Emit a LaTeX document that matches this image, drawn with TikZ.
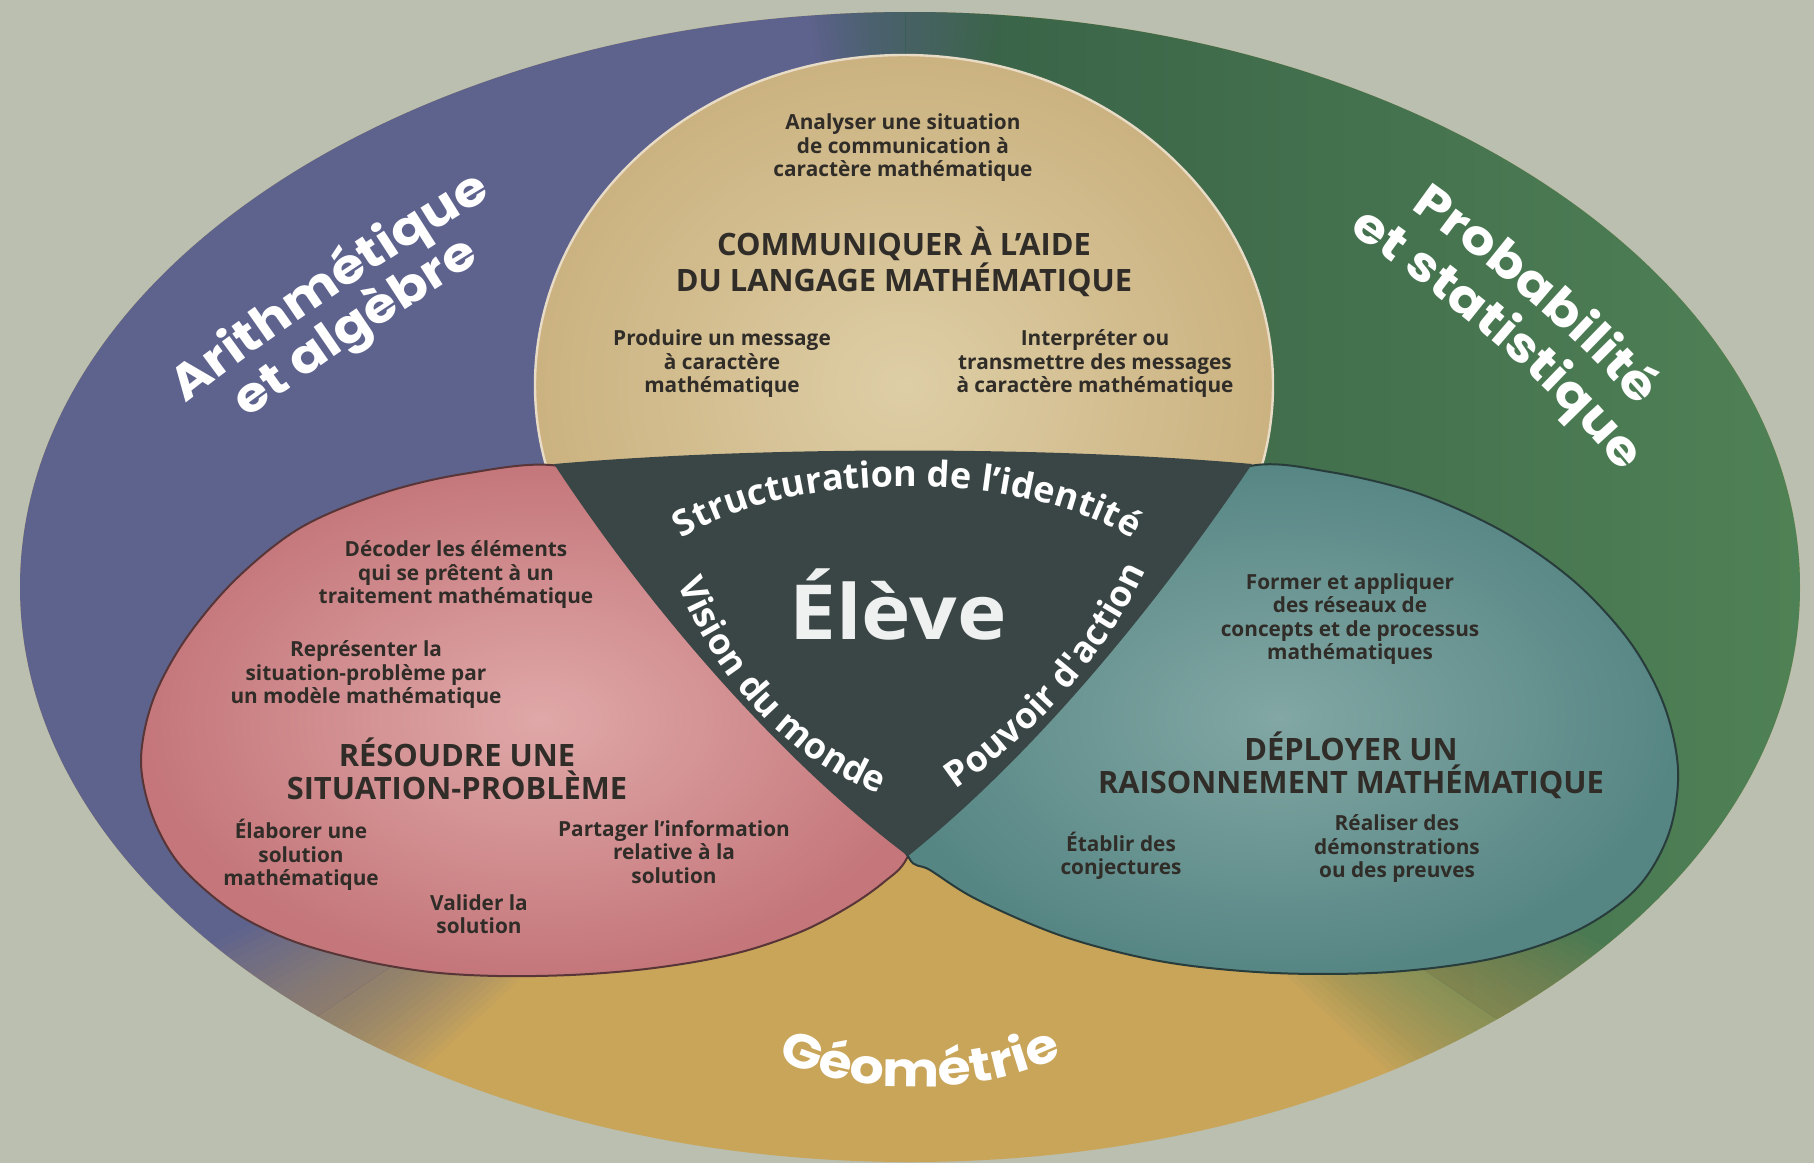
\documentclass[tikz,border=0pt]{standalone}
\usepackage{fontspec}
\setmainfont{Open Sans}
\newfontfamily\whitefont{Open Sans}
\newfontfamily\decofont{Poppins}[FakeStretch=1.12]
\usetikzlibrary{calc, decorations.text}

\definecolor{bgsage}{RGB}{186,191,176}
\definecolor{arith}{RGB}{94,99,142}
\definecolor{proba}{RGB}{80,130,86}
\definecolor{probadark}{RGB}{56,97,70}
\definecolor{geom}{RGB}{201,165,90}
\definecolor{commu}{RGB}{203,178,128}
\definecolor{commulight}{RGB}{222,206,166}
\definecolor{resou}{RGB}{196,118,122}
\definecolor{resoulight}{RGB}{224,168,168}
\definecolor{deplo}{RGB}{86,134,132}
\definecolor{deplolight}{RGB}{130,167,164}
\definecolor{eleve}{RGB}{58,70,70}
\definecolor{ink}{RGB}{48,44,40}

\tikzset{
  small/.style={font=\bfseries\fontsize{10.4}{11.75}\selectfont, text=ink, align=center, inner sep=0pt},
  heading/.style={font=\bfseries\fontsize{15.4}{16.5}\selectfont, text=ink, align=center, inner sep=0pt},
  curved/.style={decorate, decoration={text along path, text align=center,
      text={|\whitefont\bfseries\fontsize{18}{18}\selectfont\color{white}|#1}}},
  domain/.style={decorate, decoration={text along path, text align=center,
      text={|\decofont\bfseries\fontsize{24}{24}\selectfont\color{white}|#1}}},
}

\begin{document}
\begin{tikzpicture}[x=0.5pt, y=-0.5pt]
  \useasboundingbox (0,0) rectangle (1814,1163);
  \fill[bgsage] (0,0) rectangle (1814,1163);
  \coordinate (o) at (905,620);

  \begin{scope}
    \clip (910,587) ellipse [x radius=445pt, y radius=287.5pt];
    \fill[geom] (0,0) rectangle (1814,1163);
    \fill[arith] (o) -- ($(o)+(90:800pt)$) -- ($(o)+(150:800pt)$) -- ($(o)+(214:800pt)$) -- cycle;
    \shade[left color=probadark, right color=proba]
      (o) -- (905,-10) -- (1820,-10) -- (1820,1163) -- (1710,1163) -- cycle;
    \foreach \d in {0.6,1.2,...,9} {
      \fill[arith, opacity=0.045] (o) -- ($(o)+(214:800pt)$) -- ($(o)+(214+\d:800pt)$) -- cycle;
      \fill[geom, opacity=0.045] (o) -- ($(o)+(214:800pt)$) -- ($(o)+(214-\d:800pt)$) -- cycle;
      \fill[proba, opacity=0.045] (o) -- ($(o)+(-34:800pt)$) -- ($(o)+(-34-\d:800pt)$) -- cycle;
      \fill[geom, opacity=0.045] (o) -- ($(o)+(-34:800pt)$) -- ($(o)+(-34+\d:800pt)$) -- cycle;
      \fill[arith, opacity=0.045] (o) -- ($(o)+(90:800pt)$) -- ($(o)+(90-\d:800pt)$) -- cycle;
      \fill[probadark, opacity=0.045] (o) -- ($(o)+(90:800pt)$) -- ($(o)+(90+\d:800pt)$) -- cycle;
    }
  \end{scope}

  \shadedraw[inner color=commulight, outer color=commu, draw=white!55!commu, line width=1.2pt]
    (904,385) ellipse [x radius=184.5pt, y radius=165pt];

  \shadedraw[inner color=resoulight, outer color=resou, draw=black!55!resou, line width=1pt]
    plot[smooth cycle, tension=0.55] coordinates {(559,466) (463,474) (380,494) (300,528) (235,580)
      (185,640) (153,700) (141,760) (152,815) (180,865) (231,910) (290,940) (360,960)
      (430,972) (498,976) (570,975) (637,970) (700,961) (752,949) (805,930) (850,906)
      (884,882) (907,858) (925,800) (800,650) (650,505)};

  \shadedraw[inner color=deplolight, outer color=deplo, draw=black!55!deplo, line width=1pt]
    plot[smooth cycle, tension=0.55] coordinates {(1250,466) (1330,472) (1420,494) (1504,532)
      (1575,582) (1630,642) (1664,705) (1678,770) (1669,833) (1637,888) (1578,930)
      (1495,958) (1390,972) (1275,973) (1165,962) (1065,937) (978,900) (930,870) (909,858)
      (893,800) (1000,660) (1160,505)};

  \fill[eleve] (554,464) .. controls (760,446) and (1050,446) .. (1252,464)
    .. controls (1160,600) and (1040,750) .. (908,856)
    .. controls (780,760) and (650,610) .. cycle;

  \node[small] (anal) at (903,148) {Analyser une situation\\de communication à\\caractère mathématique};
  \node[heading] (comm) at (904,262) {COMMUNIQUER À L’AIDE\\DU LANGAGE MATHÉMATIQUE};
  \node[small] (prod) at (722,364) {Produire un message\\à caractère\\mathématique};
  \node[small] (inte) at (1095,364) {Interpréter ou\\transmettre des messages\\à caractère mathématique};

  \node[small] (deco) at (456,575) {Décoder les éléments\\qui se prêtent à un\\traitement mathématique};
  \node[small] (repr) at (366,675) {Représenter la\\situation-problème par\\un modèle mathématique};
  \node[heading] (reso) at (457,769) {RÉSOUDRE UNE\\SITUATION-PROBLÈME};
  \node[small] (elab) at (301,855) {Élaborer une\\solution\\mathématique};
  \node[small] (vali) at (479,914) {Valider la\\solution};
  \node[small] (part) at (674,852) {Partager l’information\\relative à la\\solution};

  \node[small] (form) at (1350,619) {Former et appliquer\\des réseaux de\\concepts et de processus\\mathématiques};
  \node[heading] (depl) at (1351,765) {DÉPLOYER UN\\RAISONNEMENT MATHÉMATIQUE};
  \node[small] (etab) at (1121,856) {Établir des\\conjectures};
  \node[small] (real) at (1397,849) {Réaliser des\\démonstrations\\ou des preuves};

  \node[font=\whitefont\bfseries\fontsize{38}{38}\selectfont, text=white!92!eleve, inner sep=0pt]
    (eleve) at (898,604) {\scalebox{1.1}[1]{Élève}};

  \path[curved={Structuration de l’identité}] (640,578) .. controls (720,456) and (1090,456) .. (1175,578);
  \path[curved={Vision du monde}] (665,548) .. controls (700,665) and (790,775) .. (915,805);
  \path[curved={Pouvoir d'action}] (921,812) .. controls (1026,747) and (1116,657) .. (1161,532);

  \path[domain={Arithmétique}] (160,425) .. controls (235,359) and (432,228) .. (520,180);
  \path[domain={et algèbre}] (187,467) .. controls (262,401) and (459,270) .. (547,222);
  \path[domain={Probabilité}] (1352,168) .. controls (1462,243) and (1592,338) .. (1682,463);
  \path[domain={et statistique}] (1316,209) .. controls (1426,284) and (1556,379) .. (1646,504);
  \path[domain={Géométrie}] (760,1050) .. controls (840,1100) and (1000,1100) .. (1080,1045);
\end{tikzpicture}
\end{document}
